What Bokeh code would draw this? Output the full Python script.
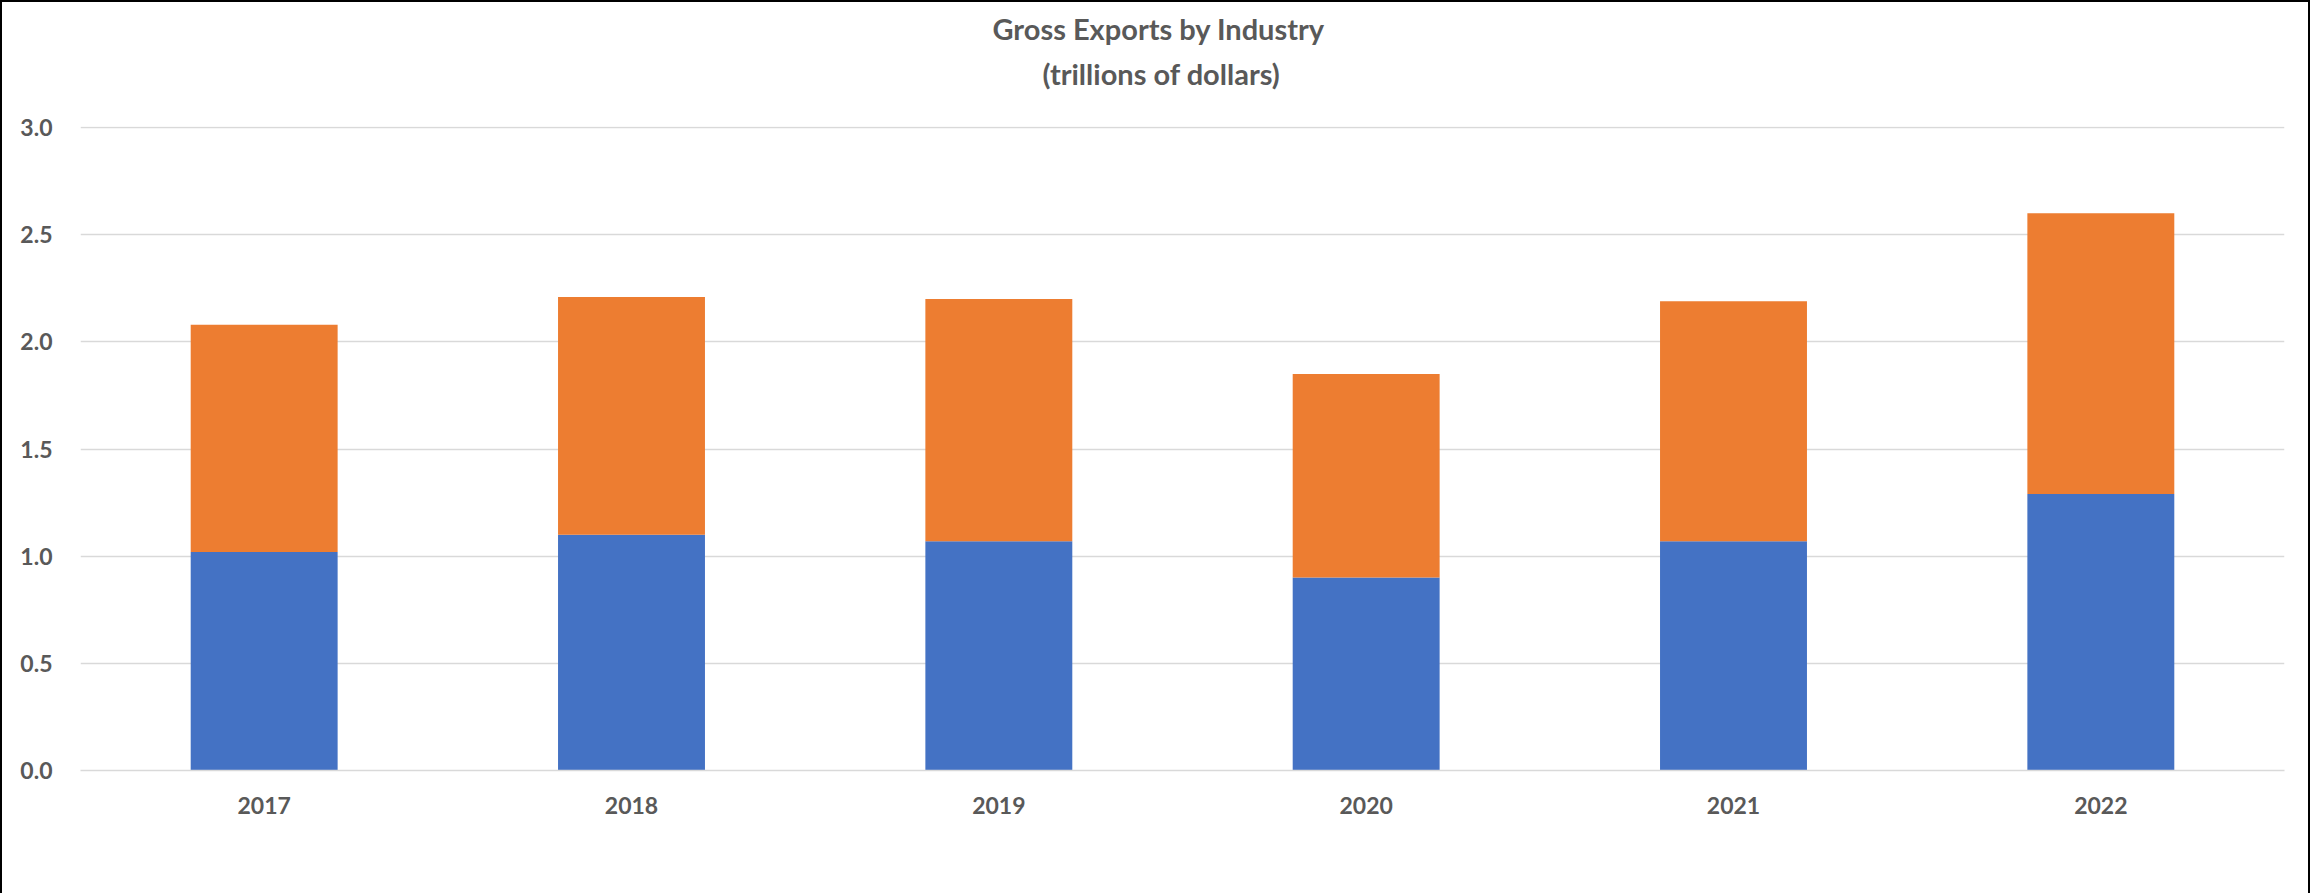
from bokeh.plotting import figure
from bokeh.models import (FactorRange, Range1d, FixedTicker, Legend, LegendItem, Title)
from bokeh.embed import file_html
from bokeh.resources import INLINE

# ---- data ----
years = ["2017", "2018", "2019", "2020", "2021", "2022"]
goods = [1.02, 1.10, 1.07, 0.90, 1.07, 1.29]
services = [1.06, 1.11, 1.13, 0.95, 1.12, 1.31]
series_names = ["Goods industries", "Services industries"]
series_colors = ["#4472C4", "#ED7D31"]
y_ticks = [0.0, 0.5, 1.0, 1.5, 2.0, 2.5, 3.0]
y_tick_labels = ["0.0", "0.5", "1.0", "1.5", "2.0", "2.5", "3.0"]
title_lines = ["Gross Exports by Industry", "(trillions of dollars)"]

TEXT = "#595959"
GRID = "#D9D9D9"
FONT = "Lato"

p = figure(
    x_range=FactorRange(*years, range_padding=0),
    y_range=Range1d(0, 3.005),
    width=None, height=None,
    frame_width=2204, frame_height=644,
    output_backend="svg", toolbar_location=None,
    title=None,
    min_border_left=78, min_border_right=24,
    min_border_top=124, min_border_bottom=121,
    background_fill_color="white", border_fill_color="white",
    styles={"border-top": "2px solid black", "border-left": "2px solid black",
            "border-right": "2px solid black", "border-bottom": "2px solid #D9D9D9"},
)
p.outline_line_color = None

src = dict(years=years, goods=goods, services=services)
rs = p.vbar_stack(["goods", "services"], x="years", width=0.4, source=src,
                  color=series_colors, line_color=None)

# axes
p.xaxis.axis_line_color = GRID
p.xaxis.axis_line_width = 1.5
p.xaxis.major_tick_line_color = None
p.xaxis.minor_tick_line_color = None
p.xaxis.major_label_text_font = FONT
p.xaxis.major_label_text_font_style = "bold"
p.xaxis.major_label_text_font_size = "23px"
p.xaxis.major_label_text_color = TEXT
p.xaxis.major_label_standoff = 20

p.yaxis.ticker = FixedTicker(ticks=y_ticks)
p.yaxis.major_label_overrides = {t: l for t, l in zip(y_ticks, y_tick_labels)}
p.yaxis.axis_line_color = None
p.yaxis.major_tick_line_color = None
p.yaxis.minor_tick_line_color = None
p.yaxis.major_label_text_font = FONT
p.yaxis.major_label_text_font_style = "bold"
p.yaxis.major_label_text_font_size = "23px"
p.yaxis.major_label_text_color = TEXT
p.yaxis.major_label_standoff = 22

p.xgrid.grid_line_color = None
p.ygrid.ticker = FixedTicker(ticks=y_ticks)
p.ygrid.grid_line_color = GRID
p.ygrid.grid_line_width = 1.5

# legend below the axis, anchored to the top of its panel
legend = Legend(
    items=[LegendItem(label=n, renderers=[r]) for n, r in zip(series_names, rs)],
    orientation="horizontal", location="top_center",
    label_text_font=FONT, label_text_font_size="23px", label_text_color=TEXT,
    glyph_width=14, glyph_height=14, label_standoff=7, spacing=37,
    border_line_color=None, background_fill_alpha=0,
    margin=12, padding=6,
)
p.add_layout(legend, "below")

# blank spacer between the title and the frame
p.add_layout(Title(text=" ", text_font=FONT, text_font_size="18px", standoff=8), "above")

# two-line title: added innermost first
for t, off in zip(reversed(title_lines), [962, 912]):
    p.add_layout(Title(
        text=t, align="left", offset=off,
        text_font=FONT, text_font_style="bold", text_font_size="29px",
        text_color=TEXT, standoff=8,
    ), "above")

open("out.html", "w").write(file_html(p, INLINE))
